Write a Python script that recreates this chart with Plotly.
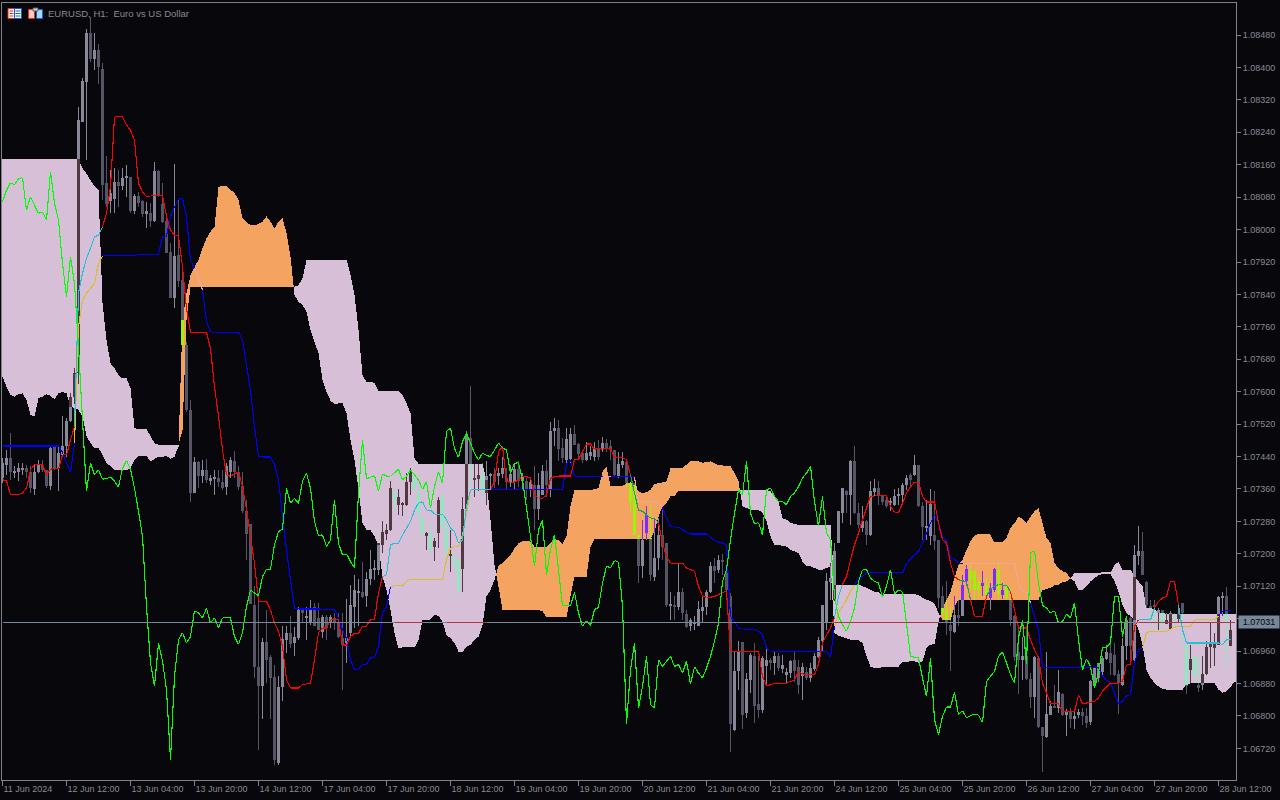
import plotly.graph_objects as go

# All prices are in points above 1.00000 (7031 = 1.07031)
open_pts = [
7387,7420,7436,7401,7403,7408,7411,7403,7360,7401,
7420,7407,7368,7465,7411,7444,7467,7527,7588,7645,
8266,8365,8484,8422,8443,8397,8116,8070,8075,8118,
8107,8129,8130,8046,8083,8071,8038,8040,8022,8144,
8063,8022,7945,7832,7937,7875,7715,7555,7351,7426,
7393,7407,7380,7387,7388,7378,7364,7403,7430,7403,
7368,7305,7274,7074,6921,6873,6982,6945,6896,6684,
6871,6987,7005,6980,6992,7062,7042,7033,7068,7042,
7008,7043,7029,7041,7033,6992,6980,7004,7069,7103,
7105,7096,7138,7161,7159,7222,7249,7259,7350,7321,
7321,7321,7376,7386,7350,7288,7243,7250,7216,7251,
7340,7260,7194,7195,7185,7163,7311,7485,7382,7384,
7391,7350,7391,7396,7393,7396,7386,7376,7376,7409,
7380,7380,7358,7371,7310,7345,7405,7358,7502,7511,
7462,7432,7433,7496,7471,7448,7432,7442,7438,7459,
7457,7473,7465,7456,7393,7419,7426,7374,7374,7247,
7169,7251,7239,7144,7190,7247,7227,7073,7073,7069,
7107,7051,7021,7029,7021,7060,7069,7106,7171,7161,
7185,7154,7097,6766,6910,6982,6807,6888,6947,6830,
6815,6923,6937,6931,6949,6917,6902,6906,6937,6922,
6898,6908,6894,6916,6945,6986,7030,7130,7087,7227,
7300,7356,7346,7428,7300,7264,7280,7247,7352,7362,
7342,7333,7327,7321,7343,7346,7370,7395,7395,7418,
7319,7266,7245,7247,7235,7095,7062,7025,7006,7050,
7047,7132,7157,7157,7130,7121,7124,7091,7111,7160,
7099,7120,7087,7046,6959,6937,6947,6891,6848,6943,
6773,6748,6803,6824,6820,6855,6803,6809,6793,6803,
6811,6801,6784,6885,6894,6908,6941,6955,6951,6904,
6877,6973,7042,6939,7194,7208,7130,7072,7072,7054,
7062,7028,7014,7046,7039,7079,6976,6913,6947,6877,
6877,6904,6970,6968,6976,7091,7095,6972]
close_pts = [
7424,7436,7401,7403,7411,7411,7402,7362,7403,7420,
7407,7368,7462,7411,7450,7467,7528,7588,7645,8270,
8366,8484,8420,8443,8402,8110,8063,8090,8118,8107,
8128,8130,8046,8083,8066,8038,8046,8022,8144,8085,
8019,7943,7832,7936,7873,7715,7555,7351,7426,7393,
7407,7383,7387,7389,7376,7362,7417,7432,7403,7364,
7305,7250,7077,6920,6873,6982,6939,6894,6692,6871,
6991,7005,6978,6995,7062,7054,7044,7066,7023,7011,
7043,7017,7043,7029,6994,6976,6992,7074,7111,7109,
7093,7138,7163,7162,7226,7255,7259,7363,7333,7341,
7325,7378,7403,7358,7300,7250,7251,7210,7232,7333,
7262,7210,7200,7180,7110,7311,7488,7419,7388,7395,
7366,7391,7396,7378,7399,7411,7376,7396,7409,7380,
7391,7358,7377,7310,7371,7405,7370,7502,7511,7458,
7436,7483,7496,7469,7447,7432,7450,7452,7459,7438,
7473,7459,7456,7395,7421,7428,7374,7325,7247,7170,
7235,7296,7148,7190,7247,7218,7073,7074,7071,7107,
7054,7019,7037,7033,7065,7070,7106,7171,7157,7185,
7179,7111,6779,6912,6959,6803,6891,6951,6825,6815,
6943,6937,6931,6947,6918,6926,6908,6936,6910,6877,
6922,6894,6918,6949,6988,7074,7132,7140,7206,7305,
7362,7346,7428,7300,7272,7280,7247,7354,7362,7342,
7327,7319,7329,7343,7345,7370,7387,7383,7418,7319,
7266,7268,7323,7231,7091,7054,7033,7009,7050,7042,
7124,7162,7136,7111,7110,7128,7100,7116,7162,7100,
7111,7090,7037,6945,6939,6949,6891,6848,6945,6773,
6751,6806,6824,6820,6859,6803,6813,6793,6801,6809,
6799,6783,6887,6922,6931,6943,6959,6931,6902,6881,
6973,7037,6972,7198,7208,7148,7074,7066,7069,7062,
7021,7037,7054,7042,7052,7054,6875,6940,6898,6869,
6903,6970,6980,6978,7093,7097,7037,7013]
high_pts = [
7436,7457,7498,7416,7424,7424,7420,7416,7420,7432,
7432,7407,7465,7465,7469,7539,7535,7596,7658,8303,
8373,8496,8525,8484,8459,8410,8181,8147,8151,8147,
8153,8159,8130,8089,8093,8073,8069,8065,8166,8147,
8116,8040,7966,8162,8073,7908,7723,7580,7440,7430,
7432,7434,7395,7407,7407,7407,7424,7439,7453,7416,
7403,7333,7274,7120,7103,6992,7062,6951,6926,6898,
7021,7021,7047,7019,7070,7066,7070,7087,7079,7079,
7050,7050,7050,7054,7054,7054,7088,7123,7148,7138,
7181,7156,7210,7185,7226,7280,7274,7380,7364,7360,
7329,7399,7413,7407,7366,7288,7255,7276,7238,7340,
7354,7292,7259,7193,7185,7340,7502,7614,7422,7422,
7424,7428,7399,7411,7411,7440,7411,7419,7423,7428,
7399,7386,7382,7417,7399,7419,7432,7525,7534,7530,
7485,7510,7510,7518,7473,7455,7477,7465,7477,7481,
7488,7483,7481,7456,7452,7452,7432,7374,7374,7247,
7284,7317,7321,7288,7288,7309,7227,7107,7095,7177,
7116,7062,7042,7046,7083,7095,7111,7181,7190,7198,
7200,7165,7103,6959,6984,6982,6906,6955,6980,6947,
6947,6968,6943,6959,6955,6951,6918,6939,6959,6939,
6931,6922,6931,6955,6996,7074,7153,7177,7227,7305,
7362,7358,7432,7467,7325,7317,7284,7379,7384,7379,
7346,7346,7338,7360,7362,7374,7395,7399,7444,7420,
7329,7333,7360,7354,7235,7120,7132,7070,7095,7087,
7148,7173,7177,7157,7144,7157,7144,7128,7165,7180,
7128,7124,7107,7050,7025,6996,7021,6906,6947,6947,
6774,6959,6836,6877,6913,6857,6817,6820,6811,6816,
6820,6820,6889,6922,6931,6947,6976,6984,6980,6914,
6992,7046,7046,7222,7268,7255,7132,7087,7087,7066,
7062,7054,7058,7054,7066,7079,6976,6976,6947,6947,
6947,6984,7029,7005,7095,7107,7118,7036]
low_pts = [
7374,7395,7383,7387,7379,7395,7387,7350,7346,7399,
7401,7362,7358,7407,7356,7440,7440,7525,7570,7620,
8266,8171,8414,8393,8360,8073,8056,8040,8040,8056,
8097,8081,8040,8038,8056,8032,8005,8007,8019,8081,
8017,7941,7830,7806,7859,7711,7550,7329,7351,7362,
7374,7374,7370,7346,7366,7358,7346,7387,7387,7358,
7300,7185,7077,6894,6717,6792,6881,6792,6680,6680,
6836,6955,6968,6947,6988,7033,6988,7025,7021,7011,
6992,6988,7017,7012,6992,6865,6930,6992,7017,7021,
7091,7070,7123,7136,7148,7202,7234,7257,7300,7296,
7294,7317,7345,7358,7276,7243,7210,7202,7183,7214,
7259,7185,7154,7160,7099,7105,7308,7358,7341,7354,
7337,7321,7358,7362,7370,7386,7358,7366,7358,7366,
7358,7333,7341,7259,7284,7345,7341,7341,7465,7428,
7423,7425,7423,7469,7436,7423,7428,7432,7428,7432,
7452,7452,7432,7392,7386,7411,7366,7304,7247,7128,
7140,7235,7132,7132,7161,7185,7070,7037,7037,7062,
7037,7017,7009,7013,7021,7029,7050,7103,7128,7153,
7148,7087,6710,6762,6865,6768,6795,6857,6783,6795,
6807,6873,6914,6902,6910,6906,6881,6894,6885,6853,
6840,6889,6885,6910,6943,6959,7013,7087,7083,7227,
7276,7300,7272,7299,7264,7255,7222,7243,7342,7321,
7321,7313,7305,7319,7321,7321,7358,7365,7391,7315,
7235,7235,7222,7210,7066,7046,7000,6910,7005,7021,
7046,7120,7111,7087,7091,7095,7087,7062,7107,7087,
7089,7087,7021,6935,6853,6889,6889,6820,6795,6770,
6661,6746,6803,6820,6807,6801,6751,6770,6768,6795,
6778,6770,6778,6869,6885,6902,6939,6902,6898,6806,
6873,6939,6931,6931,7173,7148,7066,7021,7021,7013,
7021,7028,7013,7021,7033,6976,6853,6881,6898,6858,
6863,6902,6918,6924,6976,7046,6922,6972]
span_a_pts = [
7637,7612,7592,7588,7594,7596,7580,7543,7539,7584,
7588,7594,7590,7581,7596,7600,7596,7563,7560,7555,
7539,7490,7473,7461,7461,7444,7424,7416,7406,7406,
7406,7406,7411,7432,7442,7442,7442,7428,7434,7439,
7439,7442,7434,7440,7465,7777,7843,7888,7908,7925,
7954,7978,7995,8007,8106,8107,8107,8097,8091,8073,
8028,8018,8011,8011,8014,8019,8033,8019,8003,8019,
8028,7991,7933,7838,7822,7814,7797,7752,7723,7695,
7629,7600,7578,7569,7571,7571,7547,7481,7432,7358,
7276,7259,7259,7243,7222,7144,7111,7062,7004,6967,
6969,6969,6969,6969,6988,7036,7036,7038,7049,7047,
7033,7000,6992,6980,6959,6957,6971,6975,6988,6996,
7025,7095,7111,7136,7171,7177,7187,7197,7214,7226,
7231,7232,7230,7218,7218,7218,7218,7226,7234,7234,
7225,7243,7317,7358,7358,7358,7358,7358,7359,7362,
7403,7414,7368,7368,7368,7368,7374,7376,7370,7354,
7350,7352,7358,7373,7374,7376,7379,7411,7412,7413,
7413,7420,7430,7430,7428,7425,7426,7428,7424,7418,
7418,7417,7416,7399,7379,7317,7313,7309,7309,7309,
7300,7280,7243,7222,7222,7220,7218,7210,7206,7202,
7181,7171,7169,7165,7161,7161,7165,7169,7005,6998,
6995,6992,6988,6988,6987,6980,6947,6922,6918,6918,
6921,6921,6922,6922,6922,6933,6933,6935,6935,6931,
6935,6968,6976,6977,7033,7066,7087,7107,7140,7173,
7185,7210,7231,7245,7250,7250,7250,7247,7228,7228,
7228,7239,7264,7276,7291,7286,7276,7292,7305,7313,
7276,7239,7227,7177,7165,7157,7153,7140,7132,7111,
7110,7120,7132,7140,7148,7151,7151,7151,7132,7107,
7074,7054,7046,7037,7013,6976,6914,6894,6881,6873,
6867,6865,6865,6865,6865,6865,6877,6881,6881,6881,
6881,6881,6881,6881,6865,6857,6861,6871,6885]
span_b_pts = [
8173,8173,8173,8173,8173,8173,8173,8173,8173,8173,
8173,8173,8173,8173,8173,8173,8173,8173,8173,8173,
8151,8138,8122,8107,8097,7818,7728,7670,7658,7641,
7633,7633,7608,7510,7508,7508,7508,7490,7473,7469,
7469,7469,7469,7469,7469,7506,7777,7859,7859,7859,
7859,7859,7859,7859,7859,7859,7859,7859,7859,7859,
7859,7859,7859,7859,7859,7859,7859,7859,7859,7859,
7859,7859,7859,7859,7863,7880,7925,7926,7926,7926,
7926,7926,7926,7926,7926,7926,7926,7888,7839,7752,
7641,7624,7624,7622,7602,7602,7602,7602,7602,7602,
7592,7571,7547,7436,7422,7422,7422,7422,7422,7422,
7422,7422,7422,7422,7422,7422,7422,7422,7422,7422,
7422,7382,7284,7173,7119,7062,7062,7062,7062,7062,
7062,7062,7062,7062,7062,7058,7043,7043,7043,7043,
7043,7043,7095,7144,7144,7144,7144,7218,7237,7237,
7237,7237,7237,7237,7237,7237,7237,7237,7237,7237,
7237,7237,7237,7255,7292,7317,7325,7342,7343,7356,
7356,7356,7356,7356,7356,7356,7356,7356,7356,7356,
7356,7356,7356,7356,7356,7358,7358,7358,7358,7358,
7358,7358,7354,7342,7329,7288,7284,7277,7273,7272,
7272,7272,7272,7272,7272,7272,7272,7272,7124,7124,
7124,7124,7124,7124,7124,7120,7116,7111,7107,7105,
7099,7102,7102,7102,7101,7101,7101,7101,7100,7099,
7091,7087,7083,7077,7054,7037,7036,7036,7070,7087,
7087,7087,7087,7087,7087,7087,7087,7087,7087,7087,
7087,7087,7087,7087,7087,7087,7087,7087,7087,7087,
7111,7113,7116,7122,7124,7130,7132,7139,7153,7153,
7153,7153,7153,7153,7153,7153,7153,7153,7173,7180,
7161,7161,7161,7144,7132,7120,7066,7066,7064,7054,
7054,7052,7052,7052,7052,7052,7052,7052,7052,7052,
7052,7052,7052,7052,7052,7052,7052,7052,7052]
tenkan_pts = [
7383,7380,7346,7346,7346,7350,7362,7407,7421,7421,
7421,7393,7409,7410,7410,7444,7444,7481,7514,7843,
7892,7929,7954,7982,7986,8007,8040,8106,8278,8278,
8278,8258,8245,8221,8114,8093,8081,8083,8083,8083,
8083,8032,7999,7986,7984,7908,7806,7746,7746,7746,
7746,7746,7707,7612,7539,7457,7395,7391,7398,7401,
7366,7309,7243,7177,7083,7083,7083,7062,7029,7009,
6972,6889,6869,6869,6869,6877,6879,6881,6939,7005,
7017,7017,7037,7037,7037,6975,6975,6996,7004,7004,
7021,7022,7037,7039,7103,7144,7148,7222,7226,7226,
7247,7263,7280,7308,7325,7329,7308,7308,7298,7298,
7298,7284,7263,7255,7226,7234,7317,7358,7358,7358,
7358,7358,7358,7378,7452,7465,7378,7377,7377,7382,
7391,7390,7388,7345,7337,7337,7345,7386,7391,7392,
7392,7392,7392,7432,7433,7452,7471,7471,7458,7460,
7458,7460,7460,7437,7437,7437,7432,7395,7350,7308,
7305,7296,7288,7288,7276,7227,7194,7177,7177,7177,
7177,7165,7161,7157,7120,7095,7093,7093,7095,7099,
7105,7107,6959,6959,6959,6959,6959,6959,6959,6959,
6898,6875,6877,6880,6881,6881,6881,6885,6889,6910,
6904,6902,6902,6902,6927,6980,7000,7017,7042,7095,
7124,7144,7185,7222,7251,7284,7313,7342,7343,7343,
7343,7343,7317,7302,7302,7325,7350,7365,7377,7377,
7342,7328,7328,7328,7276,7235,7227,7177,7144,7136,
7134,7130,7087,7046,7046,7046,7095,7113,7121,7124,
7123,7122,7107,7062,7017,7017,7017,6988,6963,6943,
6881,6857,6830,6830,6830,6810,6810,6810,6810,6852,
6830,6832,6834,6836,6844,6861,6871,6881,6881,6881,
6885,6926,6926,7021,7037,7037,7037,7037,7066,7083,
7091,7095,7132,7132,7074,7013,6980,6980,6980,6980,
6980,6980,6980,6980,6980,6976,6988,6990]
kijun_pts = [
7466,7466,7466,7466,7466,7466,7466,7466,7466,7466,
7466,7466,7466,7466,7466,7450,7424,7401,7473,7760,
7826,7843,7855,7867,7917,7935,7935,7935,7935,7935,
7935,7935,7935,7935,7939,7939,7939,7939,7939,7939,
7982,7984,8032,8056,8075,8077,8032,7925,7904,7880,
7851,7773,7748,7746,7746,7746,7746,7746,7746,7746,
7728,7666,7604,7514,7440,7439,7439,7439,7420,7383,
7292,7210,7136,7066,7064,7064,7064,7064,7064,7064,
7063,7063,7063,7063,7041,7012,6992,6938,6914,6914,
6928,6928,6943,6944,6971,7054,7070,7119,7121,7121,
7121,7132,7137,7137,7137,7137,7137,7137,7137,7137,
7137,7185,7214,7218,7218,7247,7300,7358,7358,7358,
7358,7358,7358,7358,7358,7358,7358,7358,7358,7358,
7358,7358,7358,7358,7358,7358,7358,7358,7358,7358,
7358,7423,7432,7391,7391,7391,7391,7391,7391,7391,
7391,7391,7391,7391,7391,7391,7391,7391,7389,7330,
7329,7329,7329,7329,7325,7315,7288,7268,7266,7266,
7259,7253,7249,7249,7249,7249,7249,7241,7233,7229,
7227,7221,7046,7033,7017,7014,7014,7014,7014,7009,
7000,6968,6959,6959,6959,6959,6959,6959,6959,6959,
6959,6959,6959,6959,6959,6959,6959,6945,7021,7054,
7069,7087,7107,7124,7138,7144,7153,7153,7153,7153,
7153,7153,7153,7153,7153,7153,7176,7187,7198,7206,
7227,7251,7276,7296,7276,7243,7231,7190,7187,7177,
7177,7177,7177,7177,7177,7177,7177,7177,7177,7177,
7177,7177,7177,7177,7128,7107,7105,7079,7046,7013,
6920,6920,6920,6920,6920,6920,6920,6920,6920,6920,
6920,6920,6920,6920,6920,6898,6888,6883,6857,6830,
6836,6850,6852,6931,6963,6968,7005,7009,7009,7009,
7009,7009,7014,7019,7021,7021,7021,7021,7037,7037,
7037,7037,7037,7037,7046,7060,7060,7060]
chikou_pts = [
8069,8097,8116,8110,8126,8128,8048,8081,8060,8040,
8044,8023,8143,8065,8023,7917,7834,7933,7867,7711,
7531,7354,7424,7395,7407,7384,7386,7389,7379,7365,
7411,7430,7409,7362,7305,7243,7070,6931,6873,6980,
6935,6865,6692,6898,6988,7005,6980,6996,7060,7054,
7042,7066,7029,7042,7017,7042,7042,7042,6996,6977,
7005,7070,7111,7103,7097,7144,7162,7162,7222,7255,
7261,7362,7325,7337,7324,7379,7399,7362,7280,7245,
7247,7218,7234,7333,7226,7197,7200,7181,7165,7350,
7481,7385,7389,7393,7354,7397,7392,7391,7400,7409,
7382,7391,7407,7395,7382,7359,7378,7313,7366,7403,
7374,7502,7510,7460,7438,7477,7497,7473,7448,7432,
7448,7443,7440,7456,7473,7462,7456,7399,7423,7425,
7382,7313,7243,7169,7259,7284,7148,7210,7247,7160,
7072,7072,7072,7105,7054,7021,7035,7023,7062,7068,
7128,7170,7165,7183,7181,7070,6780,6914,6980,6819,
6873,6947,6828,6820,6939,6922,6935,6947,6922,6927,
6906,6935,6879,6921,6906,6894,6918,6947,6984,7029,
7132,7161,7235,7300,7358,7346,7428,7300,7274,7277,
7247,7358,7362,7342,7329,7329,7321,7342,7350,7366,
7387,7399,7416,7329,7268,7342,7251,7235,7095,7046,
7025,7009,7033,7066,7132,7161,7161,7140,7132,7128,
7093,7120,7161,7101,7110,7107,7029,6947,6945,6943,
6894,6848,6943,6791,6754,6799,6822,6822,6859,6803,
6813,6795,6801,6805,6802,6784,6885,6898,6910,6947,
6958,6931,6902,6881,6992,7037,6927,7202,7208,7128,
7073,7066,7054,7060,7029,7033,7051,7042,7079,6988,
6914,6941,6922,6869,6906,6970,6970,6980,7095,7095,
6996,7046]
last_price_pts = 7031
tick_labels = ["11 Jun 2024","12 Jun 12:00","13 Jun 04:00","13 Jun 20:00","14 Jun 12:00",
"17 Jun 04:00","17 Jun 20:00","18 Jun 12:00","19 Jun 04:00","19 Jun 20:00",
"20 Jun 12:00","21 Jun 04:00","21 Jun 20:00","24 Jun 12:00","25 Jun 04:00",
"25 Jun 20:00","26 Jun 12:00","27 Jun 04:00","27 Jun 20:00","28 Jun 12:00"]
price_ticks = [1.0672,1.0680,1.0688,1.0696,1.0704,1.0712,1.0720,1.0728,1.0736,1.0744,1.0752,
1.0760,1.0768,1.0776,1.0784,1.0792,1.0800,1.0808,1.0816,1.0824,1.0832,1.0840,1.0848]

BG = "#07070C"; AXIS = "#80808A"; TXT = "#8A8A90"
UP = "#888899"; DOWN = "#555566"
PINK = "#D8BFD8"; ORANGE = "#F4A460"
RED = "#FF0000"; BLUE = "#0000FF"; LIME = "#00FF00"; PRICE = "#778899"

def xor(a, b):
    ia, ib = int(a[1:], 16), int(b[1:], 16)
    return "#%06X" % (ia ^ ib)

def p(v):
    return None if v is None else 1 + v / 1e5

def cloud_at(i):
    a, b = span_a_pts[i], span_b_pts[i]
    return min(a, b), max(a, b), (ORANGE if a > b else PINK)

def pieces(i, lo, hi, color):
    clo, chi, cc = cloud_at(i)
    out = []
    if min(hi, clo) > lo:
        out.append((lo, min(hi, clo), color))
    if min(hi, chi) > max(lo, clo):
        out.append((max(lo, clo), min(hi, chi), xor(color, cc)))
    if hi > max(lo, chi):
        out.append((max(lo, chi), hi, color))
    return out

fig = go.Figure()

def add_bars(items, width):
    fig.add_trace(go.Bar(
        x=[t[0] for t in items], base=[p(t[1]) for t in items],
        y=[(t[2] - t[1]) / 1e5 for t in items], width=width,
        marker=dict(color=[t[3] for t in items], line=dict(width=0)),
        hoverinfo="skip", showlegend=False))

# The cloud is filled between its two spans, one pixel column at a time (a bar is 4 px wide)
cloud_items = []
last = len(span_a_pts) - 1
for j in range(0, 4 * last + 2):
    t = j / 4
    i = min(int(t), last - 1)
    f = t - i if t <= last else 1.0
    a = span_a_pts[i] + (span_a_pts[i + 1] - span_a_pts[i]) * f
    b = span_b_pts[i] + (span_b_pts[i + 1] - span_b_pts[i]) * f
    if abs(a - b) > 0.5:
        cloud_items.append((t, min(a, b), max(a, b), ORANGE if a > b else PINK))
add_bars(cloud_items, 0.24)

wicks, bodies = [], []
for i in range(len(open_pts)):
    o, c, h, l = open_pts[i], close_pts[i], high_pts[i], low_pts[i]
    col = UP if c >= o else DOWN
    for lo, hi, cc in pieces(i, l, h, col):
        wicks.append((i, lo, hi, cc))
    top, bot = max(o, c), min(o, c)
    if top - bot < 3:
        top = bot + 3
    for lo, hi, cc in pieces(i, bot, top, col):
        bodies.append((i, lo, hi, cc))
add_bars(wicks, 0.2)
add_bars(bodies, 0.75)

def add_line(values, color, use_xor=True):
    groups = {}
    for i in range(len(values) - 1):
        col = color
        if use_xor:
            clo, chi, cc = cloud_at(i)
            mid = (values[i] + values[i + 1]) / 2
            if clo < mid < chi:
                col = xor(color, cc)
        gx, gy = groups.setdefault(col, ([], []))
        gx += [i, i + 1, None]
        gy += [p(values[i]), p(values[i + 1]), None]
    for col, (gx, gy) in groups.items():
        fig.add_trace(go.Scatter(x=gx, y=gy, mode="lines", line=dict(color=col, width=1.1),
                                 connectgaps=False, hoverinfo="skip", showlegend=False))

add_line(kijun_pts, BLUE)
add_line(tenkan_pts, RED)
add_line(chikou_pts, LIME, use_xor=False)
add_line([last_price_pts] * len(span_a_pts), PRICE)

def px(v): return (v - 2) / 1234
def py(v): return 1 - (v - 3) / 777

def box(x0, y0, x1, y1, fill, line=None):
    return dict(type="rect", xref="paper", yref="paper", x0=px(x0), x1=px(x1), y0=py(y0), y1=py(y1),
                fillcolor=fill, line=dict(width=1 if line else 0, color=line or fill), layer="above")

icons = [
    box(8, 8.5, 14.5, 18.5, "#FFFFFF", "#E03020"), box(14.5, 8.5, 21.5, 18.5, "#FFFFFF", "#1060C0"),
    box(9.5, 10.5, 13.5, 11.5, "#E03020"), box(9.5, 13, 13.5, 14, "#E03020"), box(9.5, 15.5, 13.5, 16.5, "#E03020"),
    box(15.5, 10.5, 20.5, 11.5, "#1060C0"), box(15.5, 13, 20.5, 14, "#1060C0"), box(15.5, 15.5, 20.5, 16.5, "#1060C0"),
    box(28.5, 9.5, 34.5, 18.5, "#FFC8C0", "#E03020"), box(36.5, 9.5, 42.5, 18.5, "#A0D8FF", "#1060C0"),
    box(33, 8, 38, 11, "#D0D0D0", "#606060"),
]

fig.add_annotation(x=px(46), y=py(13.5), xref="paper", yref="paper", xanchor="left", yanchor="middle",
                   text="EURUSD, H1:  Euro vs US Dollar", showarrow=False,
                   font=dict(family="Liberation Sans", size=9.5, color=TXT))
fig.add_annotation(x=1, xref="paper", y=p(last_price_pts), yref="y", xanchor="left", yanchor="middle", xshift=2,
                   text="1.07031", showarrow=False, bgcolor=PRICE, width=40, height=12, borderpad=0,
                   font=dict(family="Liberation Sans", size=9, color="#06060C"))

fig.update_layout(
    width=1280, height=800, margin=dict(l=2, r=44, t=3, b=20, pad=0),
    paper_bgcolor=BG, plot_bgcolor=BG, barmode="overlay", bargap=0, showlegend=False,
    shapes=icons,
    xaxis=dict(range=[-0.125, 308.375], tickmode="array", tickvals=[k * 16 for k in range(len(tick_labels))],
               ticktext=tick_labels, ticks="outside", ticklen=5, tickcolor=AXIS, tickwidth=1,
               ticklabelposition="outside right", showgrid=False, zeroline=False,
               showline=True, linecolor=AXIS, linewidth=1, mirror=True,
               tickfont=dict(family="Liberation Sans", size=9, color=TXT)),
    yaxis=dict(range=[1.06642, 1.08559], autorange=False, side="right", tickmode="array", tickvals=price_ticks,
               tickformat=".5f", ticks="outside", ticklen=4, tickcolor=AXIS, tickwidth=1,
               showgrid=False, zeroline=False, showline=True, linecolor=AXIS, linewidth=1, mirror=True,
               tickfont=dict(family="Liberation Sans", size=9, color=TXT)),
)

post = """
document.documentElement.style.margin='0';document.body.style.margin='0';document.body.style.overflow='hidden';
document.documentElement.style.background='#07070C';document.body.style.background='#07070C';
document.querySelectorAll('.scatterlayer path.js-line').forEach(function(e){e.style.shapeRendering='crispEdges';});
"""
fig.write_html("out.html", config=dict(displayModeBar=False, responsive=False), post_script=post)
